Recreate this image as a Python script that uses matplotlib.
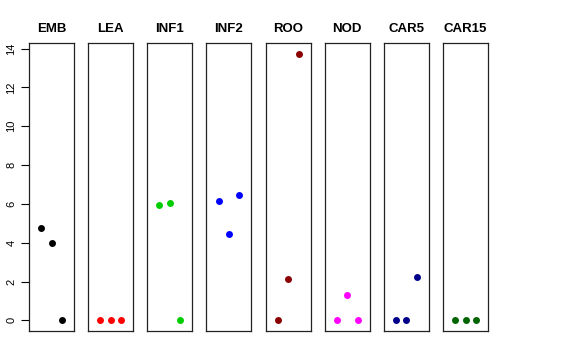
import numpy as np
import matplotlib.pyplot as plt

plt.rcParams['font.family'] = ['Liberation Sans', 'DejaVu Sans']

groups = ["EMB", "LEA", "INF1", "INF2", "ROO", "NOD", "CAR5", "CAR15"]
colors = ["black", "#FF0000", "#00CD00", "#0000FF", "#8B0000", "#FF00FF", "#00008B", "#006400"]
reps = [1, 2, 3]
values = [
    [4.74, 4.00, 0.00],
    [0.00, 0.00, 0.00],
    [5.92, 6.02, 0.00],
    [6.15, 4.45, 6.47],
    [0.00, 2.14, 13.74],
    [0.00, 1.32, 0.00],
    [0.00, 0.00, 2.23],
    [0.00, 0.00, 0.00],
]
yticks = [0, 2, 4, 6, 8, 10, 12, 14]

W, H = 576, 360
fig = plt.figure(figsize=(W / 100, H / 100), dpi=100)

ymax = max(max(v) for v in values)
ylim = (-0.04 * ymax, 1.04 * ymax)

for i, (name, col, vals) in enumerate(zip(groups, colors, values)):
    left = 29 + i * 59.15
    ax = fig.add_axes([left / W, 29 / H, 45 / W, 288 / H])
    ax.plot(reps, vals, "o", color=col, markersize=5, markeredgewidth=0)
    ax.set_xlim(-0.16, 4.16)
    ax.set_ylim(*ylim)
    ax.set_xticks([])
    for s in ax.spines.values():
        s.set_linewidth(0.9)
        s.set_color("#222222")
    ax.set_title(name, fontsize=9.5, fontweight="bold", pad=8)
    if i == 0:
        ax.set_yticks(yticks)
        ax.tick_params(axis="y", length=6, width=0.8, labelsize=8, pad=3)
        for lab in ax.get_yticklabels():
            lab.set_rotation(90)
            lab.set_va("center")
    else:
        ax.set_yticks([])

fig.savefig("out.png", dpi=100)
